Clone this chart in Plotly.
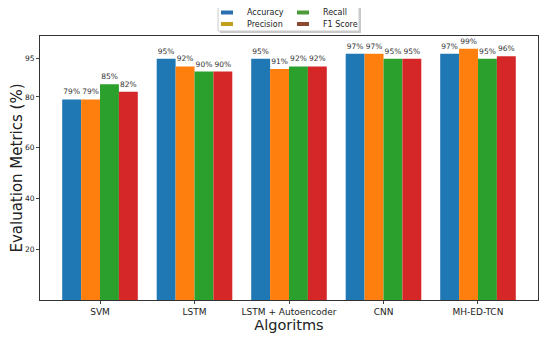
import plotly.graph_objects as go

algorithms = ["SVM", "LSTM", "LSTM + Autoencoder", "CNN", "MH-ED-TCN"]
accuracy = [79, 95, 95, 97, 97]
precision = [79, 92, 91, 97, 99]
recall = [85, 90, 92, 95, 95]
f1_score = [82, 90, 92, 95, 96]
y_ticks = [20, 40, 60, 80, 95]
metric_names = ["Accuracy", "Precision", "Recall", "F1 Score"]
bar_colors = ["#1f77b4", "#ff7f0e", "#2ca02c", "#d62728"]
legend_colors = ["#2a6fb0", "#c2a01e", "#4c9a38", "#8c4a2e"]

fig = go.Figure()
for name, vals, col in zip(metric_names, [accuracy, precision, recall, f1_score], bar_colors):
    fig.add_trace(go.Bar(
        x=algorithms, y=vals, name=name, marker_color=col, marker_line_width=0,
        text=[f"{v}%" for v in vals], textposition="outside",
        constraintext="none",
        textfont=dict(size=7.5, color="#333333", family="DejaVu Sans"),
        cliponaxis=False, showlegend=False,
    ))

# page offset (body margin) compensation: screen coords -> figure coords
OFF = 8
W, H = 550, 341
L, R, T, B = 40 - OFF, W - (538 - OFF), 36 - OFF, H - (300 - OFF)
px = lambda v: (v - OFF - L) / (W - L - R)
py = lambda v: (H - B - (v - OFF)) / (H - T - B)

# custom legend box (2 columns, row-wise like matplotlib ncol=2)
shapes = [
    dict(type="rect", xref="paper", yref="paper",
         x0=px(220), x1=px(361), y0=py(33), y1=py(8),
         line=dict(width=0), fillcolor="#c8c8c8", layer="above"),
    dict(type="rect", xref="paper", yref="paper",
         x0=px(218), x1=px(359), y0=py(31), y1=py(6),
         line=dict(color="#cccccc", width=1), fillcolor="white", layer="above"),
]
annotations = []
slots = [(221, 12.5), (221, 24), (297, 12.5), (297, 24)]
for (sx, sy), name, lc in zip(slots, metric_names, legend_colors):
    shapes.append(dict(type="rect", xref="paper", yref="paper",
                       x0=px(sx), x1=px(sx + 12), y0=py(sy + 2), y1=py(sy - 2),
                       line=dict(width=0), fillcolor=lc, layer="above"))
    annotations.append(dict(xref="paper", yref="paper", x=px(sx + 24), y=py(sy),
                            xanchor="left", yanchor="middle", showarrow=False,
                            text=name, font=dict(size=8, color="#222222")))

fig.update_layout(
    width=W, height=H,
    margin=dict(l=L, r=R, t=T, b=B, autoexpand=False),
    barmode="group", bargap=0.2, bargroupgap=0,
    plot_bgcolor="white", paper_bgcolor="white",
    font=dict(family="DejaVu Sans", color="#222222"),
    showlegend=False,
    shapes=shapes, annotations=annotations,
    xaxis=dict(
        range=[-0.635, 4.635], showline=True, linecolor="#333333", linewidth=1,
        mirror=True, ticks="outside", ticklen=3, tickfont=dict(size=9),
        title=dict(text="Algoritms", font=dict(size=14.5), standoff=2),
    ),
    yaxis=dict(
        range=[0, 104], showline=True, linecolor="#333333", linewidth=1,
        mirror=True, ticks="outside", ticklen=3, tickvals=y_ticks,
        tickfont=dict(size=7.5), showgrid=False, zeroline=False,
        title=dict(text="Evaluation Metrics (%)", font=dict(size=15), standoff=3),
    ),
)

fig.write_html("out.html")
